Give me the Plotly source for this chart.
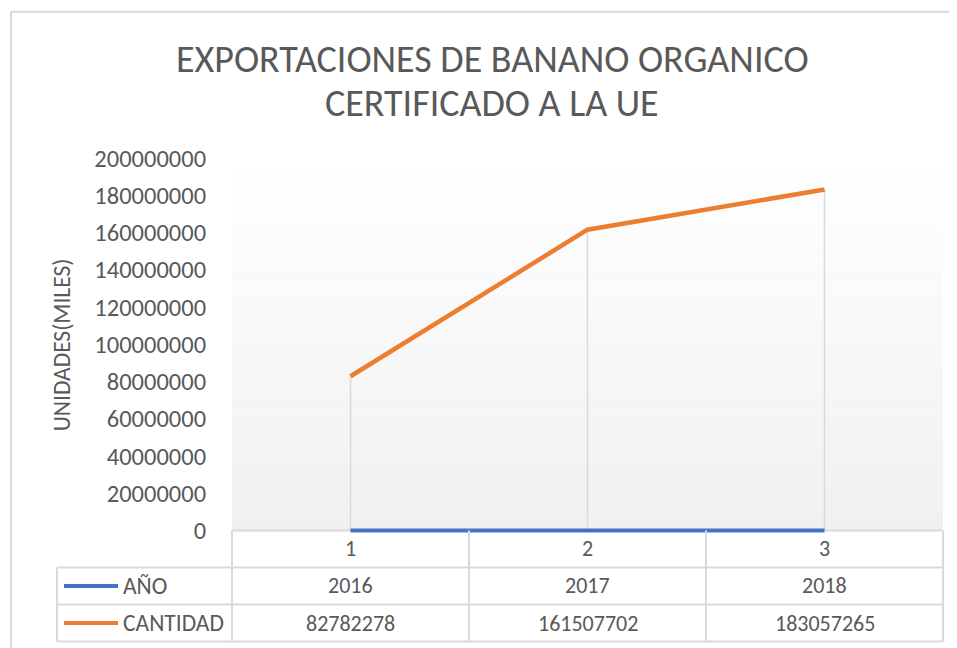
import plotly.graph_objects as go

# ---- data ----
categories = [1, 2, 3]
anio = [2016, 2017, 2018]
cantidad = [82782278, 161507702, 183057265]
series_names = ["AÑO", "CANTIDAD"]
title_lines = ["EXPORTACIONES DE BANANO ORGANICO", "CERTIFICADO A LA UE"]
y_title = "UNIDADES(MILES)"
y_ticks = list(range(0, 200000001, 20000000))

FONT = "Carlito, Lato, sans-serif"
TXT = "#595959"
GRID = "#d9d9d9"
BLUE = "#4472C4"
ORANGE = "#ED7D31"

OFF = 8  # page body margin
Y_MAX = 200000000
Y_MIN = -3000000  # small pad so the zero-level line is not clipped
W, H = 957 - OFF, 648 - OFF
top_px, zero_px = 158, 530
ph = (zero_px - top_px) * (Y_MAX - Y_MIN) / Y_MAX
L, R, T = 232 - OFF, 14, top_px - OFF
B = H - T - ph
pw = W - L - R


def px_x(p):
    return (p - OFF - L) / pw


def px_y(p):
    return (H - B - (p - OFF)) / ph


fig = go.Figure()

# drop lines from each category's top value to the axis
dx, dy = [], []
for i, c in enumerate(categories):
    dx += [c, c, None]
    dy += [0, max(anio[i], cantidad[i]), None]
fig.add_trace(go.Scatter(x=dx, y=dy, mode="lines", line=dict(color=GRID, width=1.5),
                         hoverinfo="skip", showlegend=False))

fig.add_trace(go.Scatter(x=categories, y=anio, mode="lines", name=series_names[0],
                         line=dict(color=BLUE, width=4), showlegend=False))
fig.add_trace(go.Scatter(x=categories, y=cantidad, mode="lines", name=series_names[1],
                         line=dict(color=ORANGE, width=4.5), showlegend=False))

shapes = []
# gradient background of plot area
y0p, y1p = px_y(zero_px), 1.0
n = 60
for k in range(n):
    t = (k + 0.5) / n  # 0 at top -> 1 at bottom
    v = round(255 - 15 * t)
    shapes.append(dict(type="rect", xref="paper", yref="paper", x0=0, x1=1,
                       y0=y1p - (y1p - y0p) * (k + 1) / n, y1=y1p - (y1p - y0p) * k / n,
                       line=dict(width=0), fillcolor=f"rgb({v},{v},{v})", layer="below"))

# data table grid
line = dict(color=GRID, width=2)
rows_px = [530, 567, 604, 641]
shapes.append(dict(type="line", xref="paper", yref="paper", x0=0, x1=1,
                   y0=px_y(rows_px[0]), y1=px_y(rows_px[0]), line=line, layer="below"))
for rp in rows_px[1:]:
    shapes.append(dict(type="line", xref="paper", yref="paper", x0=px_x(57), x1=1,
                       y0=px_y(rp), y1=px_y(rp), line=line))
for xp in [0, 1]:
    shapes.append(dict(type="line", xref="paper", yref="paper", x0=xp, x1=xp,
                       y0=px_y(rows_px[0]), y1=px_y(rows_px[-1]), line=line))
for c in categories[:-1]:
    shapes.append(dict(type="line", xref="x", yref="paper", x0=c + 0.5, x1=c + 0.5,
                       y0=px_y(rows_px[0]), y1=px_y(rows_px[-1]), line=line))
shapes.append(dict(type="line", xref="paper", yref="paper", x0=px_x(57), x1=px_x(57),
                   y0=px_y(rows_px[1]), y1=px_y(rows_px[-1]), line=line))
# legend keys in table
for rp_top, col in [(rows_px[1], BLUE), (rows_px[2], ORANGE)]:
    yc = px_y(rp_top + 18.5)
    shapes.append(dict(type="line", xref="paper", yref="paper", x0=px_x(64), x1=px_x(118),
                       y0=yc, y1=yc, line=dict(color=col, width=4)))
# outer chart border
shapes.append(dict(type="line", xref="paper", yref="paper", x0=px_x(11), x1=px_x(11),
                   y0=px_y(12), y1=px_y(660), line=line))
shapes.append(dict(type="line", xref="paper", yref="paper", x0=px_x(11), x1=px_x(970),
                   y0=px_y(12), y1=px_y(12), line=line))

annotations = []
f = dict(family=FONT, size=22, color=TXT)
for i, c in enumerate(categories):
    annotations.append(dict(x=c, xref="x", y=px_y(548.5), yref="paper", text=str(c),
                            showarrow=False, font=f, xanchor="center", yanchor="middle"))
    annotations.append(dict(x=c, xref="x", y=px_y(585.5), yref="paper", text=str(anio[i]),
                            showarrow=False, font=f, xanchor="center", yanchor="middle"))
    annotations.append(dict(x=c, xref="x", y=px_y(622.5), yref="paper", text=str(cantidad[i]),
                            showarrow=False, font=f, xanchor="center", yanchor="middle"))
fl = dict(family=FONT, size=23.5, color=TXT)
for j, nm in enumerate(series_names):
    annotations.append(dict(x=px_x(121), xref="paper", y=px_y(585.5 + 37 * j), yref="paper",
                            text=nm, showarrow=False, font=fl, xanchor="left", yanchor="middle"))
annotations.append(dict(x=px_x(62), xref="paper", y=px_y(345), yref="paper", text=y_title,
                        textangle=-90, showarrow=False, font=fl, xanchor="center",
                        yanchor="middle"))
ft = dict(family=FONT, size=38, color=TXT, weight=300)
for j, tl in enumerate(title_lines):
    annotations.append(dict(x=px_x(492), xref="paper", y=px_y(59 + 44 * j), yref="paper",
                            text=tl, showarrow=False, font=ft, xanchor="center",
                            yanchor="middle"))

fig.update_layout(
    width=W, height=H,
    margin=dict(l=L, r=R, t=T, b=B),
    paper_bgcolor="white", plot_bgcolor="white",
    xaxis=dict(range=[0.5, 3.5], showticklabels=False, showgrid=False, zeroline=False,
               showline=False, fixedrange=True),
    yaxis=dict(range=[Y_MIN, Y_MAX], tickvals=y_ticks, ticktext=[str(v) for v in y_ticks],
               showgrid=False, zeroline=False, showline=False, ticks="outside", ticklen=20,
               tickcolor="rgba(0,0,0,0)", tickfont=dict(family=FONT, size=24.5, color=TXT)),
    shapes=shapes, annotations=annotations, showlegend=False,
)

fig.write_html("out.html")
